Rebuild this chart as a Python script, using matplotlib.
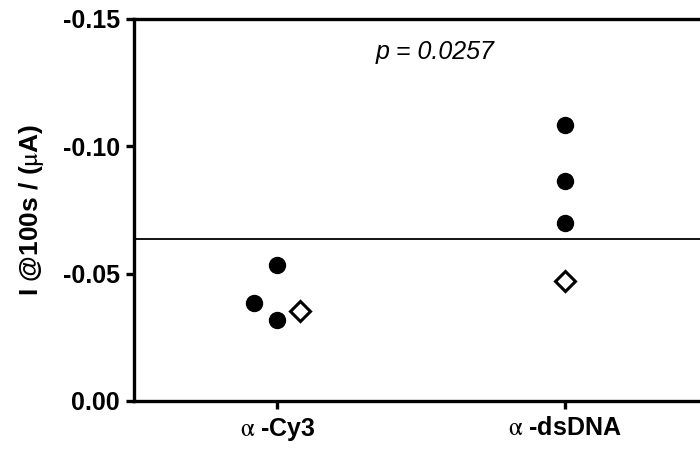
import matplotlib
matplotlib.use('Agg')
import matplotlib.pyplot as plt

plt.rcParams['font.family'] = ['Liberation Sans', 'DejaVu Sans']
plt.rcParams['axes.unicode_minus'] = False
plt.rcParams['mathtext.fontset'] = 'stix'

groups = [r'$\mathrm{\alpha}$ -Cy3', r'$\mathrm{\alpha}$ -dsDNA']

# filled circles: group index, horizontal offset, value
dot_group = [0, 0, 0, 1, 1, 1]
dot_offset = [0.0, -0.08, 0.0, 0.0, 0.0, 0.0]
dot_value = [-0.0532, -0.0383, -0.0318, -0.1083, -0.0862, -0.0697]

# open diamonds
dia_group = [0, 1]
dia_offset = [0.08, 0.0]
dia_value = [-0.0354, -0.0472]

threshold = -0.0634
p_text = 'p = 0.0257'

fig = plt.figure(figsize=(7, 4.5), dpi=100)
ax = fig.add_axes([0.191, 0.109, 0.809, 0.849])

dx = [g + 1 + o for g, o in zip(dot_group, dot_offset)]
ax.plot(dx, dot_value, 'o', color='black', markersize=11.5, linestyle='none')
mx = [g + 1 + o for g, o in zip(dia_group, dia_offset)]
ax.plot(mx, dia_value, 'D', markerfacecolor='white', markeredgecolor='black',
        markeredgewidth=2.2, markersize=10, linestyle='none')

ax.axhline(threshold, color='black', linewidth=1.3)

ax.set_xlim(0.5, 2.47)
ax.set_ylim(0, -0.15)
ax.set_yticks([0.0, -0.05, -0.10, -0.15])
ax.set_yticklabels(['0.00', '-0.05', '-0.10', '-0.15'])
ax.set_xticks([1, 2])
ax.set_xticklabels(groups)

for lab in ax.get_xticklabels() + ax.get_yticklabels():
    lab.set_fontsize(18)
    lab.set_fontweight('bold')

ax.spines['right'].set_visible(False)
for s in ['left', 'top', 'bottom']:
    ax.spines[s].set_linewidth(2.4)
ax.tick_params(axis='both', direction='out', length=6, width=2.4)
ax.tick_params(axis='y', pad=4)
ax.tick_params(axis='x', pad=5)

ax.set_ylabel(r'I @100s / ($\mathrm{\mu}$A)', fontsize=19, fontweight='bold', labelpad=12)

fig.text(435 / 700, 1 - 52 / 450, p_text, fontsize=18, style='italic',
         ha='center', va='center')

fig.savefig('out.png', dpi=100)
